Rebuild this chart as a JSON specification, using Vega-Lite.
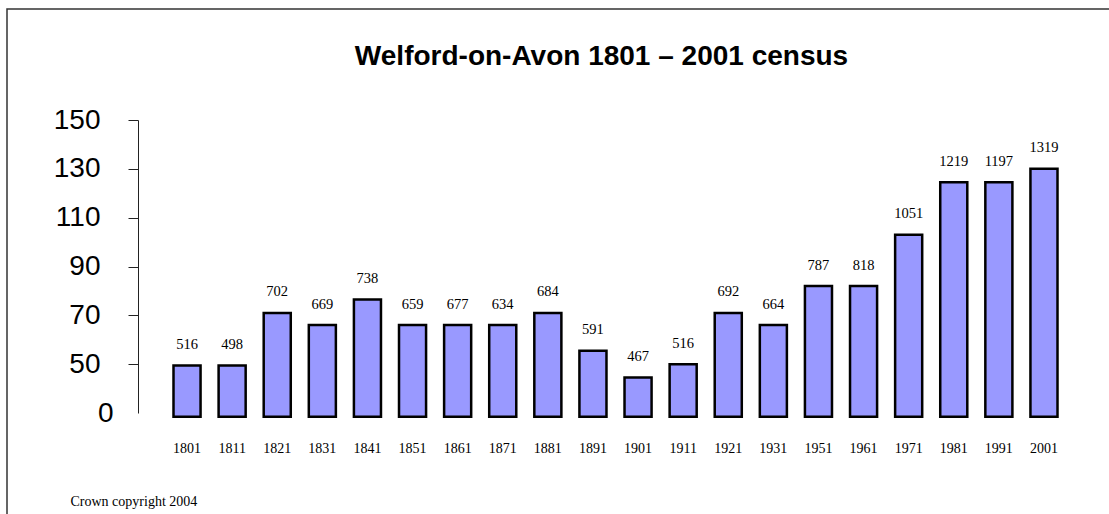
{
  "$schema": "https://vega.github.io/schema/vega-lite/v6.json",
  "autosize": {"type": "none"},
  "padding": {"left": 7, "top": 9, "right": 0, "bottom": 0},
  "width": 1104,
  "height": 507,
  "background": "white",
  "title": {
    "text": "Welford-on-Avon 1801 – 2001 census",
    "font": "Liberation Sans",
    "fontSize": 28,
    "fontWeight": "bold",
    "color": "black",
    "anchor": "middle",
    "frame": "group",
    "baseline": "alphabetic",
    "offset": -84,
    "dx": 42.5
  },
  "data": {
    "values": [
      {"year": "1801", "pop": 516, "h": 49.5},
      {"year": "1811", "pop": 498, "h": 49.5},
      {"year": "1821", "pop": 702, "h": 71},
      {"year": "1831", "pop": 669, "h": 66},
      {"year": "1841", "pop": 738, "h": 76.5},
      {"year": "1851", "pop": 659, "h": 66},
      {"year": "1861", "pop": 677, "h": 66},
      {"year": "1871", "pop": 634, "h": 66},
      {"year": "1881", "pop": 684, "h": 71},
      {"year": "1891", "pop": 591, "h": 55.5},
      {"year": "1901", "pop": 467, "h": 44.5},
      {"year": "1911", "pop": 516, "h": 50},
      {"year": "1921", "pop": 692, "h": 71},
      {"year": "1931", "pop": 664, "h": 66},
      {"year": "1951", "pop": 787, "h": 82},
      {"year": "1961", "pop": 818, "h": 82},
      {"year": "1971", "pop": 1051, "h": 103},
      {"year": "1981", "pop": 1219, "h": 124.5},
      {"year": "1991", "pop": 1197, "h": 124.5},
      {"year": "2001", "pop": 1319, "h": 130}
    ]
  },
  "encoding": {
    "x": {
      "field": "year",
      "type": "ordinal",
      "sort": null,
      "scale": {"range": [166.5, 1050.5], "paddingInner": 0.4, "paddingOuter": 0},
      "axis": {
        "orient": "bottom",
        "offset": -64,
        "domain": false,
        "ticks": false,
        "tickSize": 0,
        "labelPadding": 0,
        "labelAngle": 0,
        "labelBaseline": "alphabetic",
        "labelFont": "Liberation Serif",
        "labelFontSize": 14,
        "labelColor": "black",
        "title": "Crown copyright 2004",
        "titleFont": "Liberation Serif",
        "titleFontSize": 14,
        "titleFontWeight": "normal",
        "titleColor": "black",
        "titleAlign": "left",
        "titleAnchor": "start",
        "titleBaseline": "alphabetic",
        "titleX": 63,
        "titleY": 53
      }
    },
    "y": {
      "field": "h",
      "type": "quantitative",
      "scale": {"domain": [30, 150], "range": [404, 111], "nice": false, "zero": false},
      "axis": {
        "title": null,
        "offset": -131,
        "values": [30, 50, 70, 90, 110, 130, 150],
        "labelExpr": "datum.value == 30 ? '0' : datum.label",
        "grid": false,
        "domainColor": "#222",
        "domainWidth": 1,
        "tickColor": "#222",
        "tickSize": 10,
        "tickWidth": 1,
        "tickOpacity": {"condition": {"test": "datum.value == 30", "value": 0}, "value": 1},
        "labelPadding": {"condition": {"test": "datum.value == 30", "value": 15}, "value": 28},
        "labelFont": "Liberation Sans",
        "labelFontSize": 28,
        "labelColor": "black",
        "labelBaseline": "middle"
      }
    }
  },
  "layer": [
    {
      "mark": {"type": "bar", "fill": "#9999FF", "stroke": "black", "strokeWidth": 2.5},
      "encoding": {"y2": {"datum": 28.5}}
    },
    {
      "mark": {"type": "text", "font": "Liberation Serif", "fontSize": 14.5, "color": "black", "baseline": "alphabetic", "dy": -16.5},
      "encoding": {"text": {"field": "pop", "type": "quantitative"}}
    }
  ],
  "config": {
    "view": {"stroke": "#333", "strokeWidth": 1.5}
  }
}
